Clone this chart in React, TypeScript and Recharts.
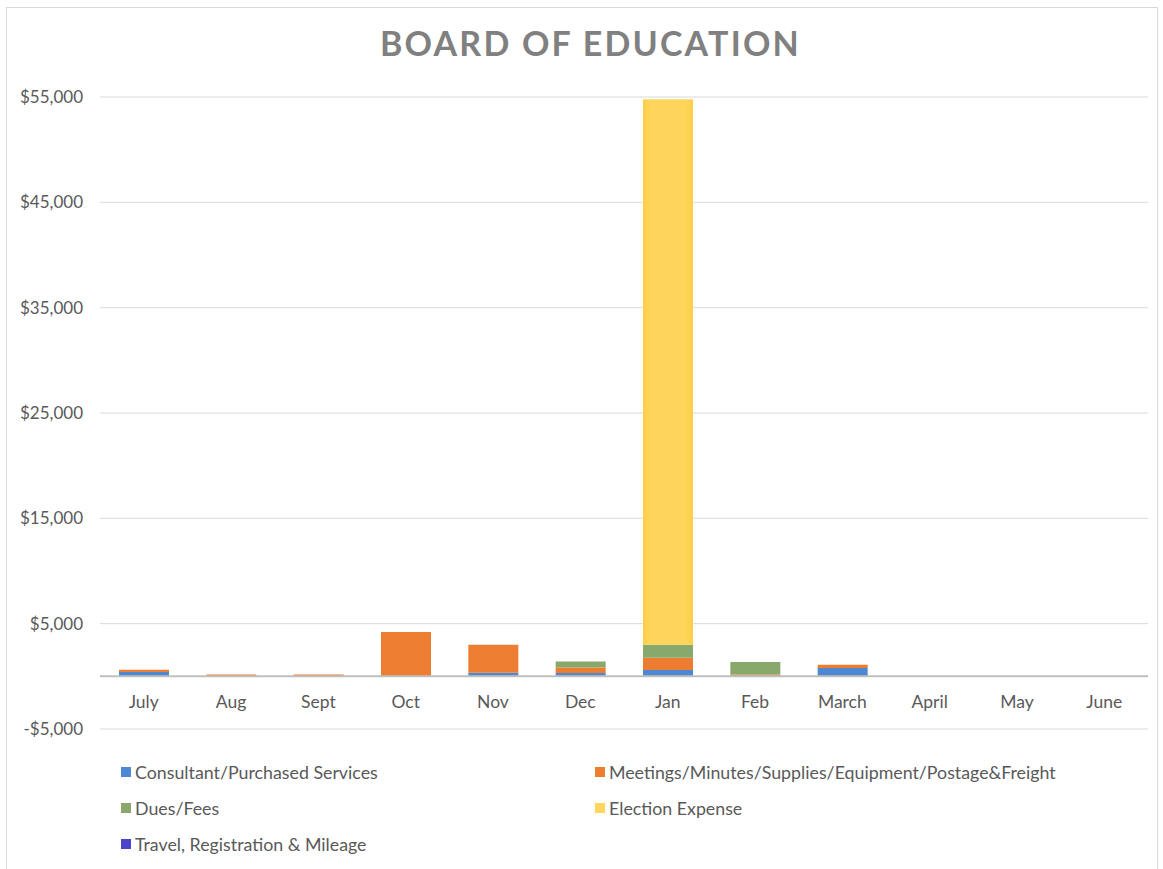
import React from "react";
import { BarChart, Bar, XAxis, YAxis, CartesianGrid, ReferenceLine } from "recharts";

const months = ["July", "Aug", "Sept", "Oct", "Nov", "Dec", "Jan", "Feb", "March", "April", "May", "June"];
const consultant = [400, 0, 0, 0, 350, 320, 600, 0, 780, 0, 0, 0];
const meetings = [230, 180, 180, 4200, 2650, 520, 1170, 180, 330, 0, 0, 0];
const dues = [0, 0, 0, 0, 0, 580, 1220, 1180, 0, 0, 0, 0];
const election = [0, 0, 0, 0, 0, 0, 51800, 0, 0, 0, 0, 0];
const travel = [0, 0, 0, 0, 0, 0, 0, 0, 0, 0, 0, 0];
const yTicks = [-5000, 5000, 15000, 25000, 35000, 45000, 55000];

const series = [
  { key: "consultant", name: "Consultant/Purchased Services", color: "#4E88D2" },
  { key: "meetings", name: "Meetings/Minutes/Supplies/Equipment/Postage&Freight", color: "#ED7D31" },
  { key: "dues", name: "Dues/Fees", color: "#88A96B" },
  { key: "election", name: "Election Expense", color: "#FFD65B" },
  { key: "travel", name: "Travel, Registration & Mileage", color: "#4A44C9" },
];

const data = months.map((m, i) => ({
  month: m,
  consultant: consultant[i],
  meetings: meetings[i],
  dues: dues[i],
  election: election[i],
  travel: travel[i],
}));

const FONT = "Lato, 'Open Sans', sans-serif";
const TEXT = "#595959";

const money = (v: number) => (v < 0 ? "-$" : "$") + Math.abs(v).toLocaleString("en-US");

const MonthTick = (props: any) => {
  const { x, y, payload } = props;
  return (
    <text x={x} y={y} dy={-21} textAnchor="middle" fill={TEXT} fontSize={17.5} fontFamily={FONT}>
      {payload.value}
    </text>
  );
};

export default function App() {
  return (
    <div style={{ position: "absolute", left: 0, top: 0, width: 1163, height: 869, background: "#fff", overflow: "hidden" }}>
      <div style={{ position: "absolute", left: 6, top: 7, width: 1150, height: 875, border: "1px solid #d9d9d9" }} />
      <div
        style={{
          position: "absolute",
          left: 0,
          width: 1163,
          top: 22,
          textAlign: "center",
          fontFamily: FONT,
          fontWeight: 700,
          fontSize: 34,
          letterSpacing: 2.2,
          color: "#808080",
          paddingLeft: 9,
        }}
      >
        BOARD OF EDUCATION
      </div>
      <div style={{ position: "absolute", left: 0, top: 0 }}>
        <BarChart width={1163} height={869} data={data} margin={{ top: 97, right: 15, bottom: 110, left: 0 }}>
          <defs>
            <linearGradient id="yellowGlow" x1="0" y1="0" x2="1" y2="0">
              <stop offset="0%" stopColor="#FFCF45" />
              <stop offset="15%" stopColor="#FFD65B" />
              <stop offset="85%" stopColor="#FFD65B" />
              <stop offset="100%" stopColor="#FFCF45" />
            </linearGradient>
          </defs>
          <CartesianGrid vertical={false} stroke="#d9d9d9" strokeWidth={1} />
          <XAxis dataKey="month" height={30} tickLine={false} axisLine={false} tickSize={0} tickMargin={0} tick={<MonthTick />} interval={0} />
          <YAxis
            width={100}
            domain={[-5000, 55000]}
            ticks={yTicks}
            tickFormatter={money}
            tickLine={false}
            axisLine={false}
            tickSize={0}
            tickMargin={17}
            tick={{ fill: TEXT, fontSize: 17, fontFamily: FONT }}
          />
          {series.map((s) => (
            <Bar
              key={s.key}
              dataKey={s.key}
              name={s.name}
              stackId="a"
              fill={s.key === "election" ? "url(#yellowGlow)" : s.color}
              barSize={50}
              isAnimationActive={false}
            />
          ))}
          <ReferenceLine y={0} stroke="#bfbfbf" strokeWidth={2} />
        </BarChart>
      </div>
      {series.map((s, i) => (
        <div
          key={s.key}
          style={{
            position: "absolute",
            left: i % 2 === 0 ? 121 : 595,
            top: 761 + Math.floor(i / 2) * 36,
            display: "flex",
            alignItems: "center",
            fontFamily: FONT,
            fontSize: 17.8,
            color: TEXT,
            whiteSpace: "nowrap",
          }}
        >
          <span style={{ display: "inline-block", width: 10, height: 10, background: s.color, marginRight: 4 }} />
          {s.name}
        </div>
      ))}
    </div>
  );
}
